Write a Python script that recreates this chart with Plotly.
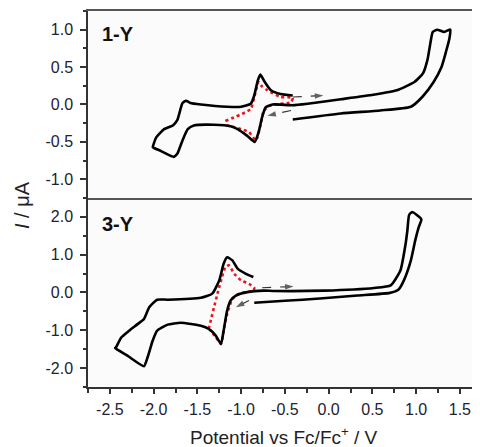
import plotly.graph_objects as go
from plotly.subplots import make_subplots

# ---------------- data ----------------
# Panel 1-Y : full CV (black)
cv1_v = [-0.41, 0.14, 0.59, 0.94, 1.07, 1.20, 1.29, 1.34, 1.38, 1.39, 1.38, 1.32, 1.24, 1.19,
         1.16, 1.13, 1.08, 0.98, 0.78, 0.51, 0.14, -0.24, -0.41, -0.64, -0.72, -0.76, -0.80,
         -0.845, -0.93, -1.04, -1.12, -1.31, -1.54, -1.61, -1.67, -1.73, -1.77, -1.92, -2.01,
         -2.00, -1.97, -1.88, -1.78, -1.73, -1.69, -1.67, -1.63, -1.58, -1.46, -1.16, -1.00,
         -0.89, -0.85, -0.81, -0.78, -0.74, -0.66, -0.55, -0.41]
cv1_i = [-0.20, -0.12, -0.08, -0.03, 0.10, 0.30, 0.50, 0.70, 0.88, 1.00, 1.00, 0.97, 1.00, 0.97,
         0.80, 0.60, 0.42, 0.30, 0.19, 0.13, 0.07, 0.01, -0.01, 0.00, -0.04, -0.17, -0.37,
         -0.50, -0.42, -0.33, -0.29, -0.27, -0.28, -0.33, -0.48, -0.66, -0.70, -0.62, -0.57,
         -0.53, -0.44, -0.33, -0.28, -0.21, -0.05, 0.02, 0.05, 0.02, 0.00, -0.03, -0.03,
         0.01, 0.12, 0.32, 0.40, 0.32, 0.19, 0.14, 0.12]

# Panel 1-Y : partial CV (red dotted)
red1_v = [-1.18, -0.89, -0.85, -0.80, -0.76, -0.70, -0.55, -0.41, -0.43, -0.66, -0.74, -0.78,
          -0.83, -0.91, -1.00, -1.12, -1.18]
red1_i = [-0.22, -0.06, 0.10, 0.30, 0.24, 0.19, 0.10, 0.09, 0.03, -0.01, -0.08, -0.28,
          -0.48, -0.37, -0.33, -0.29, -0.28]

# Panel 3-Y : full CV (black)
cv3_v = [-0.85, -0.50, -0.10, 0.33, 0.70, 0.80, 0.86, 0.94, 0.99, 1.03, 1.06, 1.05, 0.955,
         0.92, 0.90, 0.88, 0.82, 0.71, 0.52, -0.05, -0.62, -0.74, -0.93, -1.06, -1.12, -1.16,
         -1.20, -1.23, -1.29, -1.37, -1.46, -1.69, -1.84, -1.96, -2.01, -2.07, -2.11, -2.30,
         -2.44, -2.43, -2.37, -2.28, -2.18, -2.11, -2.05, -1.96, -1.84, -1.46, -1.33, -1.25,
         -1.20, -1.16, -1.10, -1.04, -0.95, -0.86]
cv3_i = [-0.27, -0.22, -0.16, -0.08, -0.01, 0.08, 0.32, 0.85, 1.38, 1.73, 1.92, 1.97, 2.13,
         2.05, 1.64, 1.29, 0.58, 0.19, 0.12, 0.05, 0.04, 0.05, 0.01, -0.08, -0.21, -0.48,
         -1.01, -1.36, -1.14, -0.96, -0.88, -0.80, -0.85, -1.01, -1.27, -1.72, -1.95, -1.67,
         -1.47, -1.45, -1.19, -1.01, -0.83, -0.70, -0.39, -0.19, -0.19, -0.14, -0.03, 0.32,
         0.76, 0.93, 0.85, 0.63, 0.50, 0.41]

# Panel 3-Y : partial CV (red dotted)
red3_v = [-1.37, -1.18, -1.14, -1.08, -1.00, -0.91, -0.85, -0.86, -1.02, -1.10, -1.16, -1.20,
          -1.23, -1.29, -1.35]
red3_i = [-0.96, 0.67, 0.72, 0.50, 0.32, 0.23, 0.12, 0.05, -0.03, -0.17, -0.57, -1.00,
          -1.36, -1.18, -1.00]

# scan-direction arrows: (tail_v, tail_i, head_v, head_i)
arrows1 = [(-0.41, 0.10, -0.06, 0.12), (-0.43, -0.08, -0.70, -0.15)]
arrows3 = [(-0.76, 0.125, -0.40, 0.16), (-0.91, -0.21, -1.06, -0.39)]

panel_labels = ["1-Y", "3-Y"]
x_ticks = [-2.5, -2.0, -1.5, -1.0, -0.5, 0.0, 0.5, 1.0, 1.5]
x_ticktext = ["-2.5", "-2.0", "-1.5", "-1.0", "-0.5", "0.0", "0.5", "1.0", "1.5"]
x_minor = [-2.75, -2.25, -1.75, -1.25, -0.75, -0.25, 0.25, 0.75, 1.25]
y1_ticks = [-1.0, -0.5, 0.0, 0.5, 1.0]
y1_ticktext = ["-1.0", "-0.5", "0.0", "0.5", "1.0"]
y1_minor = [-1.25, -0.75, -0.25, 0.25, 0.75, 1.25]
y3_ticks = [-2.0, -1.0, 0.0, 1.0, 2.0]
y3_ticktext = ["-2.0", "-1.0", "0.0", "1.0", "2.0"]
y3_minor = [-2.5, -1.5, -0.5, 0.5, 1.5, 2.5]

# ---------------- figure ----------------
fig = make_subplots(rows=2, cols=1, shared_xaxes=True, vertical_spacing=0)

blk = dict(color="black", width=2.6, shape="spline", smoothing=0.5)
red = dict(color="#e8141c", width=2.6, dash="dot", shape="spline", smoothing=0.5)

fig.add_trace(go.Scatter(x=red1_v, y=red1_i, mode="lines", line=red, showlegend=False), row=1, col=1)
fig.add_trace(go.Scatter(x=cv1_v, y=cv1_i, mode="lines", line=blk, showlegend=False), row=1, col=1)
fig.add_trace(go.Scatter(x=red3_v, y=red3_i, mode="lines", line=red, showlegend=False), row=2, col=1)
fig.add_trace(go.Scatter(x=cv3_v, y=cv3_i, mode="lines", line=blk, showlegend=False), row=2, col=1)

FONT = "Arial, Liberation Sans, sans-serif"
font_tick = dict(family=FONT, size=16, color="#222230")

# dashed scan-direction arrows (arrowhead as a marker at the head point)
for arr, row in [(arrows1, 1), (arrows3, 2)]:
    for tv, ti, hv, hi in arr:
        fig.add_trace(go.Scatter(x=[tv, hv], y=[ti, hi], mode="lines+markers",
                                 line=dict(color="#333", width=1.2, dash="dash"),
                                 marker=dict(symbol="arrow", size=[0, 9], angleref="previous",
                                             color="#222", line=dict(width=0)),
                                 showlegend=False), row=row, col=1)

# panel labels
fig.add_annotation(text="<b>%s</b>" % panel_labels[0], xref="paper", yref="y domain",
                   x=0.031, y=0.877, xanchor="left", yanchor="middle", showarrow=False,
                   font=dict(family=FONT, size=20, color="#111"))
fig.add_annotation(text="<b>%s</b>" % panel_labels[1], xref="paper", yref="y2 domain",
                   x=0.031, y=0.862, xanchor="left", yanchor="middle", showarrow=False,
                   font=dict(family=FONT, size=20, color="#111"))

# axis titles
fig.add_annotation(text="<i>I</i> / μA", xref="paper", yref="paper", x=0, y=0.5,
                   xshift=-66, yshift=-6, textangle=-90, showarrow=False,
                   xanchor="center", yanchor="middle",
                   font=dict(family=FONT, size=20, color="#222"))
fig.add_annotation(text="Potential vs Fc/Fc<sup>+</sup> / V", xref="paper", yref="paper",
                   x=0.5, y=0, yshift=-49, showarrow=False, xanchor="center", yanchor="middle",
                   font=dict(family=FONT, size=19, color="#222"))

xr = [-2.75, 1.73]
fig.update_xaxes(range=xr, showgrid=False, zeroline=False, row=1, col=1, automargin=False,
                 showline=True, linecolor="#555", linewidth=2, mirror=True,
                 ticks="", showticklabels=False)
fig.update_xaxes(range=xr, showgrid=False, zeroline=False, row=2, col=1, automargin=False,
                 showline=True, linecolor="#333", linewidth=1.5,
                 ticks="outside", ticklen=5, tickwidth=1.5, tickcolor="#333",
                 tickmode="array", tickvals=x_ticks, ticktext=x_ticktext, tickfont=font_tick,
                 ticklabelstandoff=2,
                 minor=dict(ticks="outside", ticklen=4, tickwidth=1.5, tickcolor="#333",
                            tickmode="array", tickvals=x_minor, showgrid=False))
fig.update_yaxes(range=[-1.25, 1.25], domain=[0.5027, 1], showgrid=False, zeroline=False,
                 row=1, col=1, automargin=False, showline=True, linecolor="#333", linewidth=1.5,
                 ticks="outside", ticklen=6, tickwidth=1.5, tickcolor="#333",
                 tickmode="array", tickvals=y1_ticks, ticktext=y1_ticktext, tickfont=font_tick,
                 ticklabelstandoff=4,
                 minor=dict(ticks="outside", ticklen=3, tickwidth=1.5, tickcolor="#333",
                            tickmode="array", tickvals=y1_minor, showgrid=False))
fig.update_yaxes(range=[-2.5, 2.5], domain=[0, 0.5027], showgrid=False, zeroline=False,
                 row=2, col=1, automargin=False, showline=True, linecolor="#333", linewidth=1.5,
                 ticks="outside", ticklen=6, tickwidth=1.5, tickcolor="#333",
                 tickmode="array", tickvals=y3_ticks, ticktext=y3_ticktext, tickfont=font_tick,
                 ticklabelstandoff=4,
                 minor=dict(ticks="outside", ticklen=3, tickwidth=1.5, tickcolor="#333",
                            tickmode="array", tickvals=y3_minor, showgrid=False))

# the page body has an 8px margin, so the figure is 8px smaller and the margins compensate
fig.update_layout(width=472, height=439, margin=dict(l=80, r=0, t=3, b=60, autoexpand=False),
                  paper_bgcolor="white", plot_bgcolor="#fbfbfb", showlegend=False)

fig.write_html("out.html")
